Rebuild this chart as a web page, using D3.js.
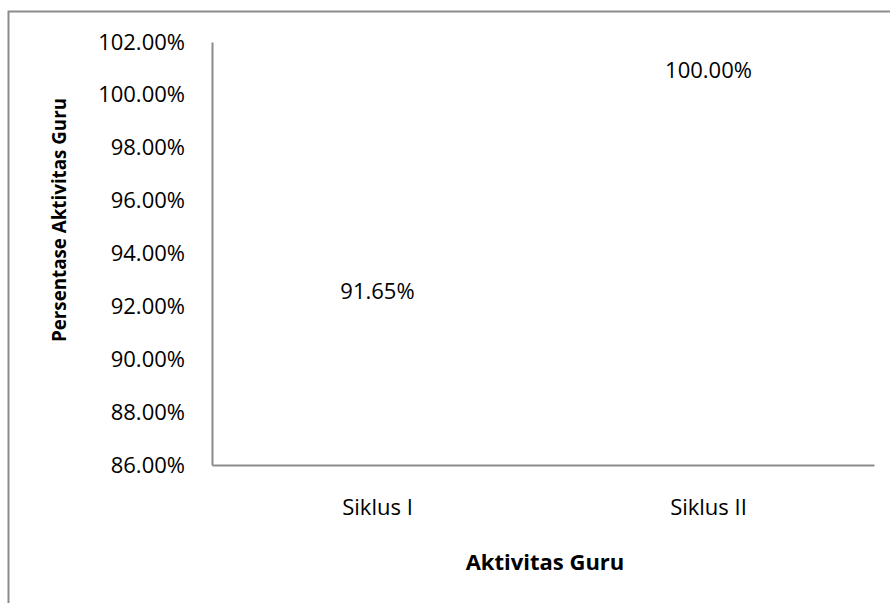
<!DOCTYPE html>
<html>
<head>
<meta charset="utf-8">
<script src="https://cdn.jsdelivr.net/npm/d3@7"></script>
<style>
  body { margin: 0; background: #fff; }
  svg { display: block; font-family: "Open Sans", sans-serif; }
</style>
</head>
<body>
<svg id="chart" width="890" height="603"></svg>
<script>
// Chart data
const categories = ['Siklus I', 'Siklus II'];
const values = [0.9165, 1.0];
const yTicks = [0.86, 0.88, 0.90, 0.92, 0.94, 0.96, 0.98, 1.00, 1.02];
const yTitle = 'Persentase Aktivitas Guru';
const xTitle = 'Aktivitas Guru';

const margin = { top: 42, right: 16, bottom: 138, left: 212 };
const width = 890 - margin.left - margin.right;
const height = 603 - margin.top - margin.bottom;
const fontSize = 22;

const svg = d3.select('#chart');

// outer chart frame (only top and left edges are visible in the picture)
svg.append('path')
   .attr('d', 'M8.5,603 L8.5,11.5 L890,11.5')
   .attr('fill', 'none')
   .attr('stroke', '#8c8c8c')
   .attr('stroke-width', 2);

const g = svg.append('g')
   .attr('transform', `translate(${margin.left},${margin.top})`);

const x = d3.scaleBand()
   .domain(categories)
   .range([0, width])
   .paddingInner(0.5)
   .paddingOuter(0.25);

const y = d3.scaleLinear()
   .domain([0.86, 1.02])
   .range([height, 0]);

// bars are white in the original, so they do not show
g.selectAll('rect.bar')
   .data(values)
   .join('rect')
   .attr('class', 'bar')
   .attr('x', (d, i) => x(categories[i]))
   .attr('width', x.bandwidth())
   .attr('y', d => y(d))
   .attr('height', d => height - y(d))
   .attr('fill', '#fff');

const styleText = s => s.selectAll('text')
   .attr('font-size', fontSize)
   .attr('fill', '#000')
   .attr('font-family', '"Open Sans", sans-serif');

// y axis
const yAxis = d3.axisLeft(y)
   .tickValues(yTicks)
   .tickSize(0)
   .tickPadding(27)
   .tickFormat(d => (d * 100).toFixed(2) + '%');

g.append('g')
   .call(yAxis)
   .call(s => s.select('.domain').attr('stroke', '#8c8c8c').attr('stroke-width', 2))
   .call(styleText);

// x axis
const xAxis = d3.axisBottom(x).tickSize(0).tickPadding(34);

g.append('g')
   .attr('transform', `translate(0,${height})`)
   .call(xAxis)
   .call(s => s.select('.domain').attr('stroke', '#8c8c8c').attr('stroke-width', 2))
   .call(styleText);

// value labels
g.selectAll('text.value')
   .data(values)
   .join('text')
   .attr('class', 'value')
   .attr('x', (d, i) => x(categories[i]) + x.bandwidth() / 2)
   .attr('y', d => y(d) - 17)
   .attr('text-anchor', 'middle')
   .attr('font-size', fontSize)
   .text(d => (d * 100).toFixed(2) + '%');

// axis titles
svg.append('text')
   .attr('transform', 'translate(66,220) rotate(-90)')
   .attr('text-anchor', 'middle')
   .attr('font-size', 20)
   .attr('font-weight', 'bold')
   .attr('textLength', 244)
   .attr('lengthAdjust', 'spacingAndGlyphs')
   .text(yTitle);

svg.append('text')
   .attr('x', margin.left + width / 2 + 2)
   .attr('y', 570)
   .attr('text-anchor', 'middle')
   .attr('font-size', fontSize)
   .attr('font-weight', 'bold')
   .text(xTitle);
</script>
</body>
</html>
